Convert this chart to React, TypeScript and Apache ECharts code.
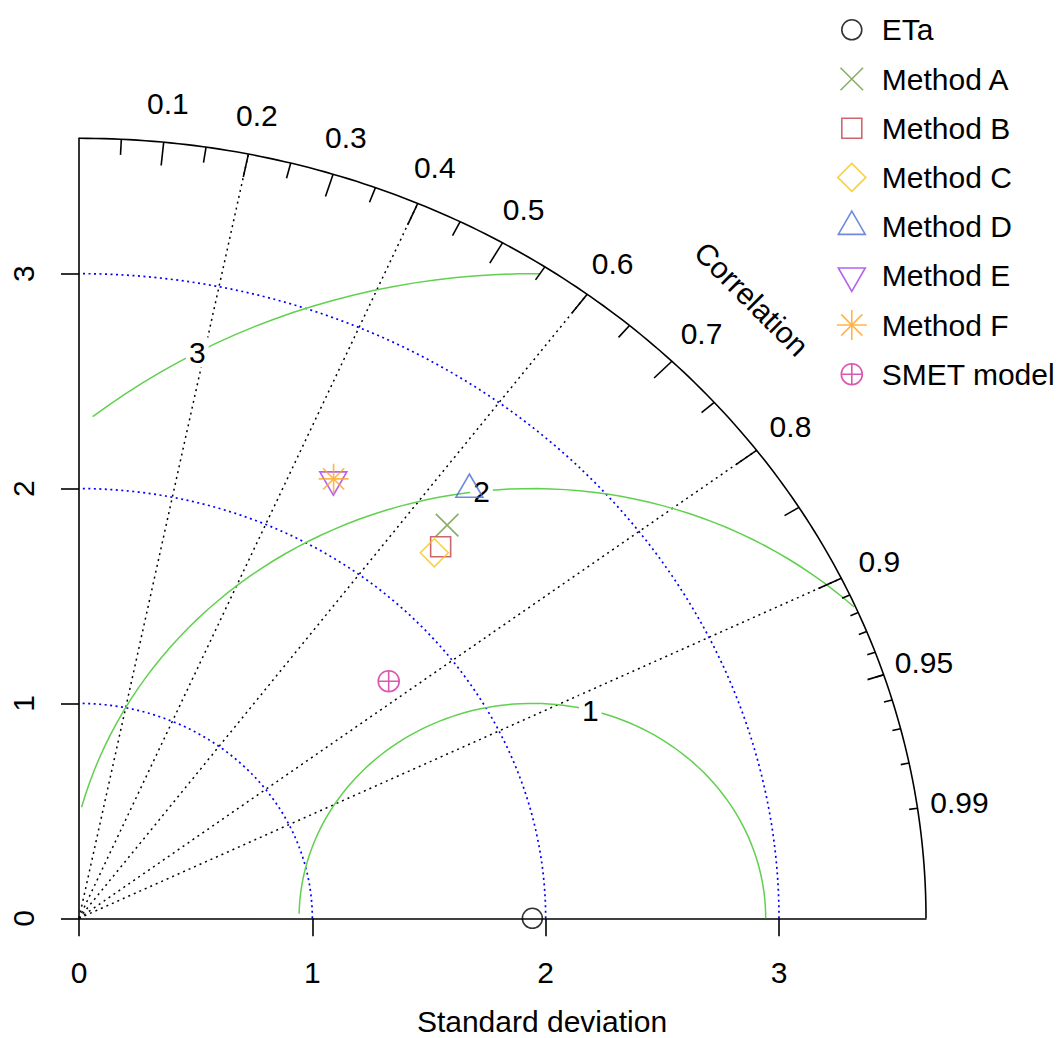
import React, { useEffect, useRef } from 'react';
import * as echarts from 'echarts';

// ---------------- data ----------------
const refName = 'ETa';
const refSD = 1.943;
const modelNames = ['Method A', 'Method B', 'Method C', 'Method D', 'Method E', 'Method F', 'SMET model'];
const modelSD = [2.416, 2.322, 2.283, 2.604, 2.314, 2.318, 1.726];
const modelCorr = [0.653, 0.6675, 0.667, 0.6425, 0.471, 0.4707, 0.769];
const modelColors = ['#6E9A40', '#C0404A', '#F5C710', '#4A6BD8', '#A23BEA', '#FFA21F', '#D22E9B'];
const refColor = '#000000';

const maxSD = 3.63;
const sdArcRadii = [1, 2, 3];
const rmsRadii = [1, 2, 3];
const rmsLabelIndex = [45, 57, 70]; // plotrix label positions along the curve (1-based)
const corrGridLines = [0.2, 0.4, 0.6, 0.8, 0.9];
const corrBigTicks = [0.1, 0.2, 0.3, 0.4, 0.5, 0.6, 0.7, 0.8, 0.9];
const corrMedTicks = [0.05, 0.15, 0.25, 0.35, 0.45, 0.55, 0.65, 0.75, 0.85, 0.95];
const corrSmallTicks = [0.91, 0.92, 0.93, 0.94, 0.95, 0.96, 0.97, 0.98, 0.99];
const corrLabelValues = [0.1, 0.2, 0.3, 0.4, 0.5, 0.6, 0.7, 0.8, 0.9, 0.95, 0.99];
const axisTickValues = [0, 1, 2, 3];

// marker shapes (40x40 frame, centred at 20,20)
const FRAME = 'M0,0M40,40';
const markerPaths = [
  'path://' + FRAME + 'M10,20A10,10 0 1,1 30,20A10,10 0 1,1 10,20Z',
  'path://' + FRAME + 'M8.7,8.7L31.3,31.3M31.3,8.7L8.7,31.3',
  'path://' + FRAME + 'M10,10L30,10L30,30L10,30Z',
  'path://' + FRAME + 'M20,6L34,20L20,34L6,20Z',
  'path://' + FRAME + 'M20,4.45L33.47,27.78L6.53,27.78Z',
  'path://' + FRAME + 'M20,35.55L33.47,12.22L6.53,12.22Z',
  'path://' + FRAME + 'M20,5L20,35M5,20L35,20M9.39,9.39L30.61,30.61M30.61,9.39L9.39,30.61',
  'path://' + FRAME + 'M9.5,20A10.5,10.5 0 1,1 30.5,20A10.5,10.5 0 1,1 9.5,20ZM20,9.5L20,30.5M9.5,20L30.5,20',
];

const FONT = '"Liberation Sans", Arial, sans-serif';

// ---------------- geometry helpers ----------------
const polar = (r: number, c: number) => [r * c, r * Math.sqrt(Math.max(0, 1 - c * c))];

function quarterArc(r: number) {
  const pts: number[][] = [];
  const n = 160;
  for (let k = 0; k <= n; k++) {
    const t = (k / n) * (Math.PI / 2);
    pts.push([r * Math.cos(t), r * Math.sin(t)]);
  }
  return pts;
}

function rmsCurve(g: number) {
  const xs: number[] = [];
  const ys: number[] = [];
  for (let k = 0; k * 0.03 <= Math.PI + 1e-9; k++) {
    const t = k * 0.03;
    xs.push(Math.cos(t) * g + refSD);
    ys.push(Math.sin(t) * g);
  }
  const firstNeg = xs.findIndex((x) => x < 0);
  const end = firstNeg >= 0 ? firstNeg - 1 : xs.length - 1;
  let start = 0;
  for (let i = 0; i < xs.length; i++) {
    if (xs[i] * xs[i] + ys[i] * ys[i] > maxSD * maxSD) start = i + 1;
  }
  const pts: number[][] = [];
  for (let i = start; i <= end; i++) pts.push([xs[i], ys[i]]);
  return { pts, xs, ys };
}

function tickSegs(list: number[], f: number) {
  return list.map((c) => ({ coords: [polar(maxSD, c), polar(maxSD * f, c)] }));
}

function linesSeries(data: any[], color: string, width: number, type: any, z: number) {
  return {
    type: 'lines',
    coordinateSystem: 'cartesian2d',
    polyline: true,
    clip: false,
    silent: true,
    z,
    lineStyle: { color, width, type, opacity: 1 },
    data,
  };
}

export default function App() {
  const ref = useRef<HTMLDivElement>(null);

  useEffect(() => {
    if (!ref.current) return;
    const chart = echarts.init(ref.current, undefined, { renderer: 'svg' });

    const sdArcs = sdArcRadii.map((r) => ({ coords: quarterArc(r) }));
    const outer = [{ coords: quarterArc(maxSD) }];
    const radial = corrGridLines.map((c) => ({ coords: [[0, 0], polar(maxSD, c)] }));
    const rms = rmsRadii.map((g) => rmsCurve(g));
    const rmsLines = rms.map((o) => ({ coords: o.pts }));
    const rmsLabels: any[] = [];
    rms.forEach((o, i) => {
      const idx = rmsLabelIndex[i] - 1;
      if (o.xs[idx] > 0) rmsLabels.push({ value: [o.xs[idx], o.ys[idx]], name: String(rmsRadii[i]) });
    });

    const corrLabelData = corrLabelValues.map((c) => ({
      value: polar(maxSD * 1.05, c),
      name: String(c),
    }));

    const pointSeries = [
      {
        type: 'scatter',
        name: refName,
        symbol: markerPaths[0],
        symbolSize: 40,
        clip: false,
        z: 10,
        silent: true,
        itemStyle: { color: 'rgba(0,0,0,0)', borderColor: refColor, borderWidth: 1.6 },
        data: [[refSD, 0]],
      },
      ...modelNames.map((name, i) => ({
        type: 'scatter',
        name,
        symbol: markerPaths[i + 1],
        symbolSize: 40,
        clip: false,
        z: 10,
        silent: true,
        itemStyle: { color: 'rgba(0,0,0,0)', borderColor: modelColors[i], borderWidth: 1.6 },
        data: [polar(modelSD[i], modelCorr[i])],
      })),
    ];

    const labelSeries = (data: any[], extra: any, z: number) => ({
      type: 'scatter',
      symbol: 'circle',
      symbolSize: 1,
      clip: false,
      silent: true,
      z,
      itemStyle: { color: 'rgba(0,0,0,0)' },
      label: {
        show: true,
        position: 'inside',
        formatter: '{b}',
        color: '#000000',
        textBorderWidth: 0,
        textBorderColor: 'transparent',
        opacity: 1,
        fontSize: 30,
        fontFamily: FONT,
        ...extra,
      },
      data,
    });

    const option: any = {
      animation: false,
      backgroundColor: '#ffffff',
      textStyle: { fontFamily: FONT },
      grid: { left: 79, right: 134, top: 138.3, bottom: 119.7, containLabel: false },
      xAxis: {
        type: 'value',
        min: 0,
        max: maxSD,
        splitLine: { show: false },
        axisLine: { show: true, lineStyle: { color: '#000', width: 1.6 } },
        axisTick: {
          show: true,
          inside: false,
          length: 18,
          customValues: axisTickValues,
          lineStyle: { color: '#000', width: 1.6 },
        },
        axisLabel: {
          show: true,
          customValues: axisTickValues,
          margin: 39,
          color: '#000',
          fontSize: 30,
          fontFamily: FONT,
        },
      },
      yAxis: {
        type: 'value',
        min: 0,
        max: maxSD,
        splitLine: { show: false },
        axisLine: { show: true, lineStyle: { color: '#000', width: 1.6 } },
        axisTick: {
          show: true,
          inside: false,
          length: 18,
          customValues: axisTickValues,
          lineStyle: { color: '#000', width: 1.6 },
        },
        axisLabel: {
          show: true,
          customValues: axisTickValues,
          rotate: 90,
          margin: 41,
          color: '#000',
          fontSize: 30,
          fontFamily: FONT,
        },
      },
      legend: {
        orient: 'vertical',
        left: 831,
        top: 9,
        padding: 0,
        itemGap: 7.6,
        itemWidth: 40,
        itemHeight: 40,
        selectedMode: false,
        itemStyle: { borderWidth: 1.6 },
        textStyle: { fontSize: 30, color: '#000', fontFamily: FONT, lineHeight: 30, padding: [0, 0, 0, 5] },
        data: [refName, ...modelNames].map((n, i) => ({ name: n, icon: markerPaths[i] })),
      },
      graphic: [
        {
          type: 'text',
          x: 542,
          y: 1021,
          style: {
            text: 'Standard deviation',
            fontSize: 30,
            fontFamily: FONT,
            fill: '#000',
            align: 'center',
            verticalAlign: 'middle',
          },
        },
      ],
      series: [
        linesSeries(radial, '#000', 1.5, [2, 4], 1),
        linesSeries(sdArcs, '#0000FF', 1.7, [2, 3.5], 2),
        linesSeries(rmsLines, '#61D04F', 1.5, 'solid', 3),
        linesSeries(outer, '#000', 1.6, 'solid', 4),
        linesSeries(tickSegs(corrBigTicks, 0.97), '#000', 1.6, 'solid', 4),
        linesSeries(tickSegs(corrMedTicks, 0.98), '#000', 1.6, 'solid', 4),
        linesSeries(tickSegs(corrSmallTicks, 0.99), '#000', 1.6, 'solid', 4),
        labelSeries(corrLabelData, {}, 5),
        labelSeries(
          [{ value: polar(maxSD * 1.123, Math.SQRT1_2), name: 'Correlation' }],
          { rotate: -45 },
          5
        ),
        labelSeries(rmsLabels, { backgroundColor: '#ffffff', padding: [0, 3] }, 6),
        ...pointSeries,
      ],
    };

    chart.setOption(option);
    return () => chart.dispose();
  }, []);

  return (
    <div
      ref={ref}
      style={{ position: 'fixed', left: 0, top: 0, width: 1060, height: 1038, background: '#fff' }}
    />
  );
}
